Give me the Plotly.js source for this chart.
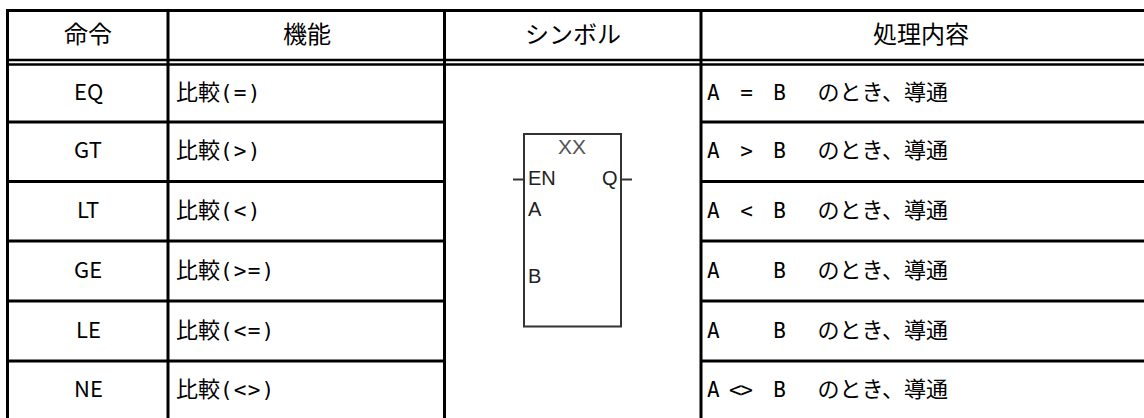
<!DOCTYPE html>
<html>
<head>
<meta charset="utf-8">
<script src="https://cdn.plot.ly/plotly-3.0.1.min.js"></script>
<style>
  html, body { margin: 0; padding: 0; background: #fff; }
  #chart { width: 1144px; height: 418px; }
</style>
</head>
<body>
<div id="chart"></div>
<script>
// ---- data ----
const headers = ["命令", "機能", "シンボル", "処理内容"];
const commands = ["EQ", "GT", "LT", "GE", "LE", "NE"];
const functions = ["比較(=)", "比較(>)", "比較(<)", "比較(>=)", "比較(<=)", "比較(<>)"];
const conditions = [
  "A  =  B   のとき、導通",
  "A  >  B   のとき、導通",
  "A  <  B   のとき、導通",
  "A     B   のとき、導通",
  "A     B   のとき、導通",
  "A <>  B   のとき、導通"
];
const blockName = "XX";
const blockInputs = ["EN", "A", "B"];
const blockOutput = "Q";

// ---- layout geometry ----
const W = 1144, H = 418;
const colEdges = [7.5, 168, 444.5, 701, 1140];
const topLine = 10.5, dbl1 = 60, dbl2 = 64.5;
const rowEdges = [64.5, 122, 181.5, 241, 301, 361, 420];
const LINE = "#000";
const CJK = "Noto Sans CJK JP";
const MONO_NARROW = "font-family:DejaVu Sans Mono;font-size:21px;letter-spacing:-1.6px";
const MONO_WIDE = "font-family:DejaVu Sans Mono;font-size:21px;letter-spacing:1.2px";

function mixText(s, monoStyle) {
  // wrap runs of ASCII in a monospace span, keep Japanese in the CJK font
  let out = "", run = "", ascii = null;
  const flush = () => {
    if (!run) return;
    if (ascii) out += '<span style="' + monoStyle + '">' + run + '</span>';
    else out += run;
    run = "";
  };
  for (const ch of s) {
    const a = ch.charCodeAt(0) < 128;
    if (ascii !== null && a !== ascii) flush();
    ascii = a;
    let c = ch === " " ? "\u00a0" : ch;
    if (c === "<") c = "&lt;";
    if (c === ">") c = "&gt;";
    run += c;
  }
  flush();
  return out;
}

const shapes = [];
const hline = (y, x0, x1, w) => shapes.push({type: "line", xref: "x", yref: "y", x0: x0, x1: x1, y0: y, y1: y, line: {color: LINE, width: w}});
const vline = (x, y0, y1, w) => shapes.push({type: "line", xref: "x", yref: "y", x0: x, x1: x, y0: y0, y1: y1, line: {color: LINE, width: w}});

hline(topLine, 6, W, 3);
hline(dbl1, 6, W, 2.6);
hline(dbl2, 6, W, 2.6);
colEdges.slice(0, 4).forEach(x => vline(x, 9, H + 5, 3));
rowEdges.slice(1, 6).forEach(y => { hline(y, 6, colEdges[2], 3); hline(y, colEdges[3], W, 3); });

// function block symbol
const BOX = {x0: 524, x1: 621, y0: 134, y1: 326.5};
const SYM = "#333";
shapes.push({type: "rect", xref: "x", yref: "y", x0: BOX.x0, x1: BOX.x1, y0: BOX.y0, y1: BOX.y1, line: {color: SYM, width: 2}, fillcolor: "rgba(0,0,0,0)"});
const pinY = 179.5;
shapes.push({type: "line", xref: "x", yref: "y", x0: 513, x1: BOX.x0, y0: pinY, y1: pinY, line: {color: SYM, width: 2}});
shapes.push({type: "line", xref: "x", yref: "y", x0: BOX.x1, x1: 632, y0: pinY, y1: pinY, line: {color: SYM, width: 2}});

const annotations = [];
const ann = (text, x, y, xanchor, font) => annotations.push({
  text: text, x: x, y: y, xref: "x", yref: "y", xanchor: xanchor, yanchor: "middle",
  showarrow: false, font: font, align: xanchor === "left" ? "left" : "center"
});

// header
const headerY = (topLine + dbl1) / 2 - 3;
const headerCenters = [88, 306.5, 572.5, 921];
headers.forEach((h, i) => ann(h, headerCenters[i], headerY, "center", {family: CJK, size: 24, color: "#000"}));

// body rows
commands.forEach((c, i) => {
  const yc = (rowEdges[i] + rowEdges[i + 1]) / 2 - 3.5;
  ann(c, 88, yc, "center", {family: CJK, size: 22, color: "#000"});
  ann(mixText(functions[i], MONO_WIDE), 174, yc, "left", {family: CJK, size: 22, color: "#000"});
  ann(mixText(conditions[i], MONO_NARROW), 705, yc, "left", {family: CJK, size: 22, color: "#000"});
});

// symbol texts
const symFont = {family: "Liberation Sans, Arial, sans-serif", size: 20, color: "#222"};
ann(blockName, 572, 146, "center", {family: "Liberation Sans, Arial, sans-serif", size: 21, color: "#555"});
ann(blockInputs[0], 526, 178, "left", symFont);
ann(blockOutput, 620, 178, "right", symFont);
ann(blockInputs[1], 526, 208.5, "left", symFont);
ann(blockInputs[2], 526, 276, "left", symFont);

const layout = {
  width: W, height: H,
  margin: {l: 0, r: 0, t: 0, b: 0, pad: 0},
  paper_bgcolor: "#fff", plot_bgcolor: "#fff",
  showlegend: false,
  xaxis: {range: [0, W], visible: false, fixedrange: true},
  yaxis: {range: [H, 0], visible: false, fixedrange: true},
  shapes: shapes,
  annotations: annotations
};
Plotly.newPlot("chart", [{type: "scatter", x: [], y: [], hoverinfo: "skip"}], layout, {staticPlot: true, displayModeBar: false});
</script>
</body>
</html>
